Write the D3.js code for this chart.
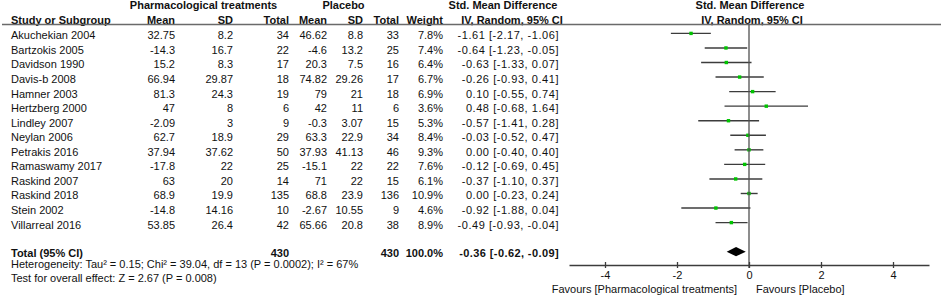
<!DOCTYPE html>
<html>
<head>
<meta charset="utf-8">
<script src="https://cdn.jsdelivr.net/npm/d3@7"></script>
<style>
  body { margin: 0; background: #fff; }
  svg text { font-family: "Liberation Sans", Arial, sans-serif; fill: #111; }
</style>
</head>
<body>
<div id="forest"></div>
<script>
const WIDTH = 941;
const HEIGHT = 298;

// study rows
const studies = ["Akuchekian 2004", "Bartzokis 2005", "Davidson 1990", "Davis-b 2008", "Hamner 2003",
    "Hertzberg 2000", "Lindley 2007", "Neylan 2006", "Petrakis 2016", "Ramaswamy 2017",
    "Raskind 2007", "Raskind 2018", "Stein 2002", "Villarreal 2016"];
const pharmMean = [32.75, -14.3, 15.2, 66.94, 81.3, 47, -2.09, 62.7, 37.94, -17.8, 63, 68.9, -14.8, 53.85];
const pharmSD = [8.2, 16.7, 8.3, 29.87, 24.3, 8, 3, 18.9, 37.62, 22, 20, 19.9, 14.16, 26.4];
const pharmN = [34, 22, 17, 18, 19, 6, 9, 29, 50, 25, 14, 135, 10, 42];
const placMean = [46.62, -4.6, 20.3, 74.82, 79, 42, -0.3, 63.3, 37.93, -15.1, 71, 68.8, -2.67, 65.66];
const placSD = [8.8, 13.2, 7.5, 29.26, 21, 11, 3.07, 22.9, 41.13, 22, 22, 23.9, 10.55, 20.8];
const placN = [33, 25, 16, 17, 18, 6, 15, 34, 46, 22, 15, 136, 9, 38];
const weight = [7.8, 7.4, 6.4, 6.7, 6.9, 3.6, 5.3, 8.4, 9.3, 7.6, 6.1, 10.9, 4.6, 8.9];
const smd = [-1.61, -0.64, -0.63, -0.26, 0.10, 0.48, -0.57, -0.03, 0.00, -0.12, -0.37, 0.00, -0.92, -0.49];
const ciLow = [-2.17, -1.23, -1.33, -0.93, -0.55, -0.68, -1.41, -0.52, -0.40, -0.69, -1.10, -0.23, -1.88, -0.93];
const ciHigh = [-1.06, -0.05, 0.07, 0.41, 0.74, 1.64, 0.28, 0.47, 0.40, 0.45, 0.37, 0.24, 0.04, -0.04];

// pooled result
const totalPharmN = 430;
const totalPlacN = 430;
const totalWeight = 100.0;
const totalSmd = -0.36;
const totalLow = -0.62;
const totalHigh = -0.09;

const heterogeneityText = "Heterogeneity: Tau² = 0.15; Chi² = 39.04, df = 13 (P = 0.0002); I² = 67%";
const overallText = "Test for overall effect: Z = 2.67 (P = 0.008)";
const axisTicks = [-4, -2, 0, 2, 4];
const favourLeft = "Favours [Pharmacological treatments]";
const favourRight = "Favours [Placebo]";

const FONT = 11;
const GREEN = "#00c400";

const rows = studies.map((s, i) => ({
    study: s,
    cells: [String(pharmMean[i]), String(pharmSD[i]), String(pharmN[i]),
            String(placMean[i]), String(placSD[i]), String(placN[i]),
            weight[i].toFixed(1) + "%",
            `${smd[i].toFixed(2)} [${ciLow[i].toFixed(2)}, ${ciHigh[i].toFixed(2)}]`],
    smd: smd[i], lo: ciLow[i], hi: ciHigh[i]
}));

// right edge of every numeric column
const colRight = [175, 233, 289, 327, 363, 399, 443, 559];
const colHeads = ["Mean", "SD", "Total", "Mean", "SD", "Total", "Weight"];

const svg = d3.select("#forest")
    .append("svg")
    .attr("width", WIDTH)
    .attr("height", HEIGHT);

// row position (marker centre)
const y = d3.scalePoint()
    .domain(d3.range(studies.length))
    .range([33.4, 222.6]);
const TEXT_DY = 5.9;

const x = d3.scaleLinear()
    .domain([-5, 5])
    .range([569, 929]);

// headers
svg.append("text").attr("x", 203.5).attr("y", 9).attr("text-anchor", "middle")
    .attr("font-weight", "bold").attr("font-size", FONT).text("Pharmacological treatments");
svg.append("text").attr("x", 343.5).attr("y", 9).attr("text-anchor", "middle")
    .attr("font-weight", "bold").attr("font-size", FONT).text("Placebo");
svg.append("text").attr("x", 503).attr("y", 9).attr("text-anchor", "middle")
    .attr("font-weight", "bold").attr("font-size", FONT).text("Std. Mean Difference");
svg.append("text").attr("x", 750).attr("y", 9).attr("text-anchor", "middle")
    .attr("font-weight", "bold").attr("font-size", FONT).text("Std. Mean Difference");

svg.append("text").attr("x", 11).attr("y", 24)
    .attr("font-weight", "bold").attr("font-size", FONT).text("Study or Subgroup");
colHeads.forEach((h, i) => {
    svg.append("text").attr("x", colRight[i]).attr("y", 24).attr("text-anchor", "end")
        .attr("font-weight", "bold").attr("font-size", FONT).text(h);
});
svg.append("text").attr("x", 512).attr("y", 24).attr("text-anchor", "middle")
    .attr("font-weight", "bold").attr("font-size", FONT).text("IV, Random, 95% CI");
svg.append("text").attr("x", 752).attr("y", 24).attr("text-anchor", "middle")
    .attr("font-weight", "bold").attr("font-size", FONT).text("IV, Random, 95% CI");

svg.append("line")
    .attr("x1", 2).attr("x2", WIDTH)
    .attr("y1", 24.5).attr("y2", 24.5)
    .attr("stroke", "#6a6a6a").attr("stroke-width", 1.5);

// table rows
const rowG = svg.selectAll(".row")
    .data(rows)
    .enter()
    .append("g")
    .attr("class", "row");

rowG.append("text")
    .attr("x", 11)
    .attr("y", (d, i) => y(i) + TEXT_DY)
    .attr("font-size", FONT)
    .text(d => d.study);

rowG.each(function(d, i) {
    d.cells.forEach((c, j) => {
        d3.select(this).append("text")
            .attr("x", colRight[j])
            .attr("y", y(i) + TEXT_DY)
            .attr("text-anchor", "end")
            .attr("font-size", FONT)
            .attr("letter-spacing", j === 7 ? 0.55 : 0)
            .text(c);
    });
});

// zero line
svg.append("line")
    .attr("x1", x(0)).attr("x2", x(0))
    .attr("y1", 24.5).attr("y2", 268)
    .attr("stroke", "#505050").attr("stroke-width", 1.3);

// confidence intervals + point estimates
rowG.append("line")
    .attr("x1", d => x(d.lo))
    .attr("x2", d => x(d.hi))
    .attr("y1", (d, i) => y(i))
    .attr("y2", (d, i) => y(i))
    .attr("stroke", "#3c3c3c")
    .attr("stroke-width", 1.4);

rowG.append("rect")
    .attr("x", d => x(d.smd) - 1.7)
    .attr("y", (d, i) => y(i) - 1.7)
    .attr("width", 3.4)
    .attr("height", 3.4)
    .attr("fill", GREEN);

// total row
const TOTAL_Y = 251.7;
const totalBase = 257;
svg.append("text").attr("x", 11).attr("y", totalBase)
    .attr("font-weight", "bold").attr("font-size", FONT).text("Total (95% CI)");
svg.append("text").attr("x", colRight[2]).attr("y", totalBase).attr("text-anchor", "end")
    .attr("font-weight", "bold").attr("font-size", FONT).text(totalPharmN);
svg.append("text").attr("x", colRight[5]).attr("y", totalBase).attr("text-anchor", "end")
    .attr("font-weight", "bold").attr("font-size", FONT).text(totalPlacN);
svg.append("text").attr("x", colRight[6]).attr("y", totalBase).attr("text-anchor", "end")
    .attr("font-weight", "bold").attr("font-size", FONT).text(totalWeight.toFixed(1) + "%");
svg.append("text").attr("x", colRight[7]).attr("y", totalBase).attr("text-anchor", "end")
    .attr("font-weight", "bold").attr("font-size", FONT).attr("letter-spacing", 0.4)
    .text(`${totalSmd.toFixed(2)} [${totalLow.toFixed(2)}, ${totalHigh.toFixed(2)}]`);

svg.append("path")
    .attr("d", `M${x(totalLow)},${TOTAL_Y} L${x(totalSmd)},${TOTAL_Y - 4.6} L${x(totalHigh)},${TOTAL_Y} L${x(totalSmd)},${TOTAL_Y + 4.6} Z`)
    .attr("fill", "#000");

svg.append("text").attr("x", 11).attr("y", 268).attr("font-size", FONT).text(heterogeneityText);
svg.append("text").attr("x", 11).attr("y", 282.4).attr("font-size", FONT).text(overallText);

// axis
const AXIS_Y = 265;
const axisG = svg.append("g")
    .attr("transform", `translate(0, ${AXIS_Y})`)
    .call(d3.axisBottom(x).tickValues(axisTicks).tickSize(3).tickSizeOuter(0).tickFormat(d => String(d)));
axisG.select(".domain").attr("stroke", "#3c3c3c").attr("stroke-width", 1.3);
axisG.selectAll(".tick line").attr("y1", -3).attr("y2", 3).attr("stroke", "#3c3c3c").attr("stroke-width", 1.3);
axisG.selectAll(".tick text")
    .attr("y", 14).attr("dy", 0)
    .attr("font-size", FONT)
    .style("font-family", "'Liberation Sans', Arial, sans-serif")
    .attr("fill", "#111");

svg.append("text").attr("x", 737).attr("y", 292.5).attr("text-anchor", "end")
    .attr("font-size", FONT).text(favourLeft);
svg.append("text").attr("x", 756).attr("y", 292.5)
    .attr("font-size", FONT).text(favourRight);
</script>
</body>
</html>
